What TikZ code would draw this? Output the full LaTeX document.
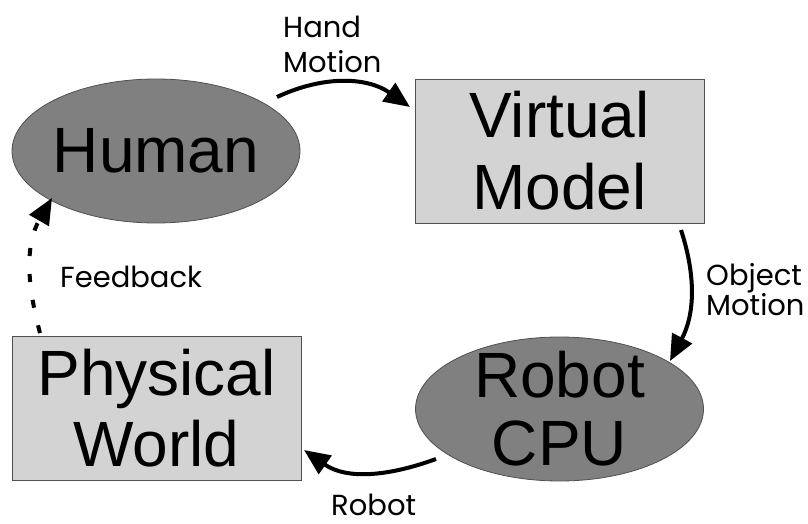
\documentclass[tikz,border=0pt]{standalone}
\usepackage{fontspec}
\setmainfont{Liberation Sans}
\newfontfamily\lblfont{Poppins}
\usetikzlibrary{arrows.meta,shapes.geometric}
\definecolor{ellfill}{HTML}{808080}
\definecolor{boxfill}{HTML}{D3D3D3}
\definecolor{edgegray}{HTML}{505050}
\begin{document}
\begin{tikzpicture}[x=1pt,y=1pt,
  bigtxt/.style={font=\fontsize{64}{70}\selectfont, align=center},
  ell/.style={ellipse, draw=edgegray, line width=0.8pt, fill=ellfill, minimum width=288pt, minimum height=144pt, inner sep=0pt, outer sep=0pt},
  box/.style={rectangle, draw=edgegray, line width=0.8pt, fill=boxfill, minimum width=289pt, minimum height=144pt, inner sep=0pt, outer sep=0pt, align=center},
  lbl/.style={font=\lblfont\fontsize{29}{35}\selectfont, inner sep=0pt, align=left},
  arr/.style={line width=4pt, -{Triangle[length=26pt,width=22pt]}},
  dasharr/.style={arr, dash pattern=on 8pt off 18pt}]
\useasboundingbox (0,0) rectangle (808,523);

\node[ell, label={[bigtxt]center:Human}] (human) at (156,372) {};
\node[box, font=\fontsize{64}{72}\selectfont] (virtual) at (559.5,372) {Virtual\\Model};
\node[ell, label={[bigtxt, font=\fontsize{64}{68}\selectfont]center:Robot\\CPU}] (robot) at (559.5,114) {};
\node[box, font=\fontsize{64}{71}\selectfont] (physical) at (156.5,114.5) {Physical\\World};

\node[lbl, anchor=west] (handlbl) at (283,479) {Hand\\Motion};
\node[lbl, anchor=west, font=\lblfont\fontsize{29}{30}\selectfont] (objlbl) at (706,233.5) {Object\\Motion};
\node[lbl, anchor=base west] (fblbl) at (60,236) {Feedback};
\node[lbl, anchor=base west] (robotlbl) at (331,8) {Robot};

\draw[arr] ([shift={(121,54)}]human.center) to[out=25,in=145] ([shift={(-149.5,44)}]virtual.center);
\draw[arr] ([shift={(121.5,-79)}]virtual.center) to[out=-72,in=62] ([shift={(110.5,48)}]robot.center);
\draw[arr] ([shift={(-123.5,-50)}]robot.center) to[out=200,in=-35] ([shift={(147.5,-41.5)}]physical.center);
\draw[dasharr] ([shift={(-116.5,75.5)}]physical.center) to[out=105,in=240] ([shift={(-104,-47)}]human.center);
\end{tikzpicture}
\end{document}
